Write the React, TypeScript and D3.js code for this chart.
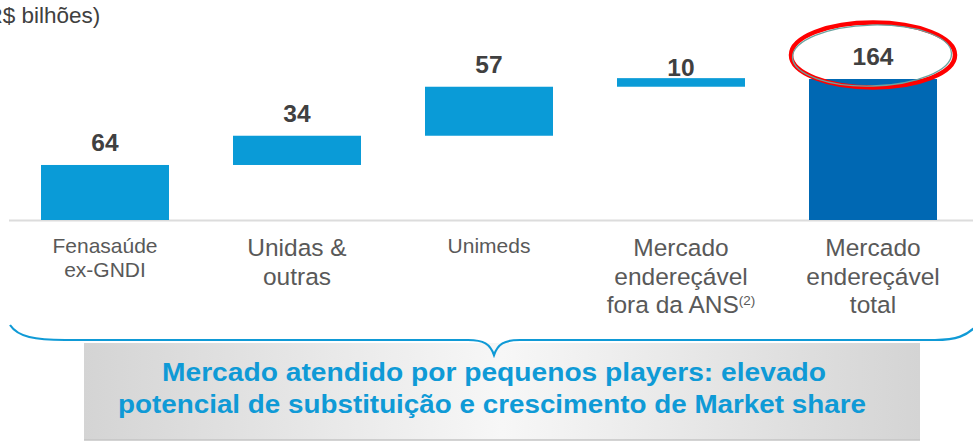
import React, { useRef, useEffect } from "react";
import * as d3 from "d3";

// dados (R$ bilhões)
const categories: string[][] = [
  ["Fenasaúde", "ex-GNDI"],
  ["Unidas &", "outras"],
  ["Unimeds"],
  ["Mercado", "endereçável", "fora da ANS"],
  ["Mercado", "endereçável", "total"],
];
const values = [64, 34, 57, 10, 164];
const isTotal = [false, false, false, false, true];
const unitLabel = "(R$ bilhões)";
const messageLines = [
  "Mercado atendido por pequenos players: elevado",
  "potencial de substituição e crescimento de Market share",
];

export default function App() {
  const ref = useRef<SVGSVGElement>(null);

  useEffect(() => {
    const width = 973, height = 441;
    const baseY = 220;
    const font = "'Liberation Sans', Arial, sans-serif";

    const svg = d3.select(ref.current);
    svg.selectAll("*").remove();
    svg.attr("width", width).attr("height", height);

    // waterfall: inicio e fim de cada barra
    let acc = 0;
    const steps = values.map((v, i) => {
      if (isTotal[i]) return { i, v, y0: 0, y1: v };
      const s = { i, v, y0: acc, y1: acc + v };
      acc += v;
      return s;
    });

    const x = d3.scaleBand<number>()
      .domain(values.map((_, i) => i))
      .range([9, 969])
      .paddingInner(1 / 3)
      .paddingOuter(1 / 6);

    const y = d3.scaleLinear()
      .domain([0, 164])
      .range([baseY, 79]);

    const defs = svg.append("defs");
    const grad = defs.append("linearGradient").attr("id", "boxGrad")
      .attr("x1", "0").attr("x2", "1").attr("y1", "0").attr("y2", "0");
    grad.append("stop").attr("offset", "0%").attr("stop-color", "#d4d4d4");
    grad.append("stop").attr("offset", "50%").attr("stop-color", "#f7f7f7");
    grad.append("stop").attr("offset", "100%").attr("stop-color", "#d4d4d4");

    // unidade
    svg.append("text")
      .attr("x", -21).attr("y", 23)
      .attr("font-family", font).attr("font-size", 22.5)
      .attr("fill", "#404040")
      .text(unitLabel);

    // eixo
    svg.append("line")
      .attr("x1", 9).attr("x2", width)
      .attr("y1", baseY + 0.5).attr("y2", baseY + 0.5)
      .attr("stroke", "#dcdcdc").attr("stroke-width", 2);

    // barras
    svg.selectAll("rect.bar")
      .data(steps)
      .enter()
      .append("rect")
      .attr("class", "bar")
      .attr("x", d => x(d.i)!)
      .attr("y", d => y(d.y1))
      .attr("width", x.bandwidth())
      .attr("height", d => y(d.y0) - y(d.y1))
      .attr("fill", d => (isTotal[d.i] ? "#0068b3" : "#0a9bd7"));

    // valores
    svg.selectAll("text.val")
      .data(steps)
      .enter()
      .append("text")
      .attr("class", "val")
      .attr("x", d => x(d.i)! + x.bandwidth() / 2)
      .attr("y", d => y(d.y1) - (d.i === 3 ? 2 : 14))
      .attr("text-anchor", "middle")
      .attr("font-family", font).attr("font-size", 24.5).attr("font-weight", "bold")
      .attr("fill", "#404040")
      .text(d => d.v);

    // destaque no total
    const cx = x(4)! + x.bandwidth() / 2;
    svg.append("ellipse")
      .attr("cx", cx).attr("cy", 55).attr("rx", 82).attr("ry", 32.5)
      .attr("fill", "none").attr("stroke", "#ff0000").attr("stroke-width", 4.5);
    svg.append("ellipse")
      .attr("cx", cx - 1).attr("cy", 55.5).attr("rx", 79.5).attr("ry", 30.5)
      .attr("transform", `rotate(-1.5 ${cx} 55)`)
      .attr("fill", "none").attr("stroke", "#6aa3a0").attr("stroke-width", 1.3);

    // categorias
    const small = new Set([0, 2]);
    const cat = svg.selectAll("text.cat")
      .data(categories)
      .enter()
      .append("text")
      .attr("class", "cat")
      .attr("text-anchor", "middle")
      .attr("font-family", font)
      .attr("font-size", (_, i) => (small.has(i) ? 21 : 24.5))
      .attr("fill", "#595959");
    cat.each(function (lines, i) {
      const t = d3.select(this);
      const cxi = x(i)! + x.bandwidth() / 2;
      const y0 = small.has(i) ? 253 : 256;
      const lh = small.has(i) ? 24 : 28.5;
      lines.forEach((ln, k) => {
        t.append("tspan").attr("x", cxi).attr("y", y0 + k * lh).text(ln);
        if (i === 3 && k === 2) {
          t.append("tspan").attr("font-size", 13.5).attr("dy", -8).text("(2)");
        }
      });
    });

    // caixa de mensagem
    svg.append("rect")
      .attr("x", 84).attr("y", 343).attr("width", 836).attr("height", 97)
      .attr("fill", "url(#boxGrad)");
    svg.append("line")
      .attr("x1", 84).attr("x2", 920).attr("y1", 440).attr("y2", 440)
      .attr("stroke", "#c4c4c4").attr("stroke-width", 1.5);

    // chave
    svg.append("path")
      .attr("d", "M10,325 C18,337 35,340 65,340 L468,340 C484,340 490,344 494,355 C498,344 504,340 520,340 L935,340 C955,340 967,337 980,322")
      .attr("fill", "none").attr("stroke", "#0f9ad6").attr("stroke-width", 2.2);

    const msgWidths = [664, 748];
    svg.selectAll("text.msg")
      .data(messageLines)
      .enter()
      .append("text")
      .attr("class", "msg")
      .attr("x", (_, i) => (i === 0 ? 494 : 492))
      .attr("y", (_, i) => 381 + i * 32)
      .attr("text-anchor", "middle")
      .attr("textLength", (_, i) => msgWidths[i])
      .attr("lengthAdjust", "spacingAndGlyphs")
      .attr("font-family", font).attr("font-size", 26.5).attr("font-weight", "bold")
      .attr("fill", "#0f9ad6")
      .text(d => d);
  }, []);

  return (
    <div style={{ position: "absolute", left: 0, top: 0 }}>
      <svg ref={ref} style={{ display: "block" }}></svg>
    </div>
  );
}
